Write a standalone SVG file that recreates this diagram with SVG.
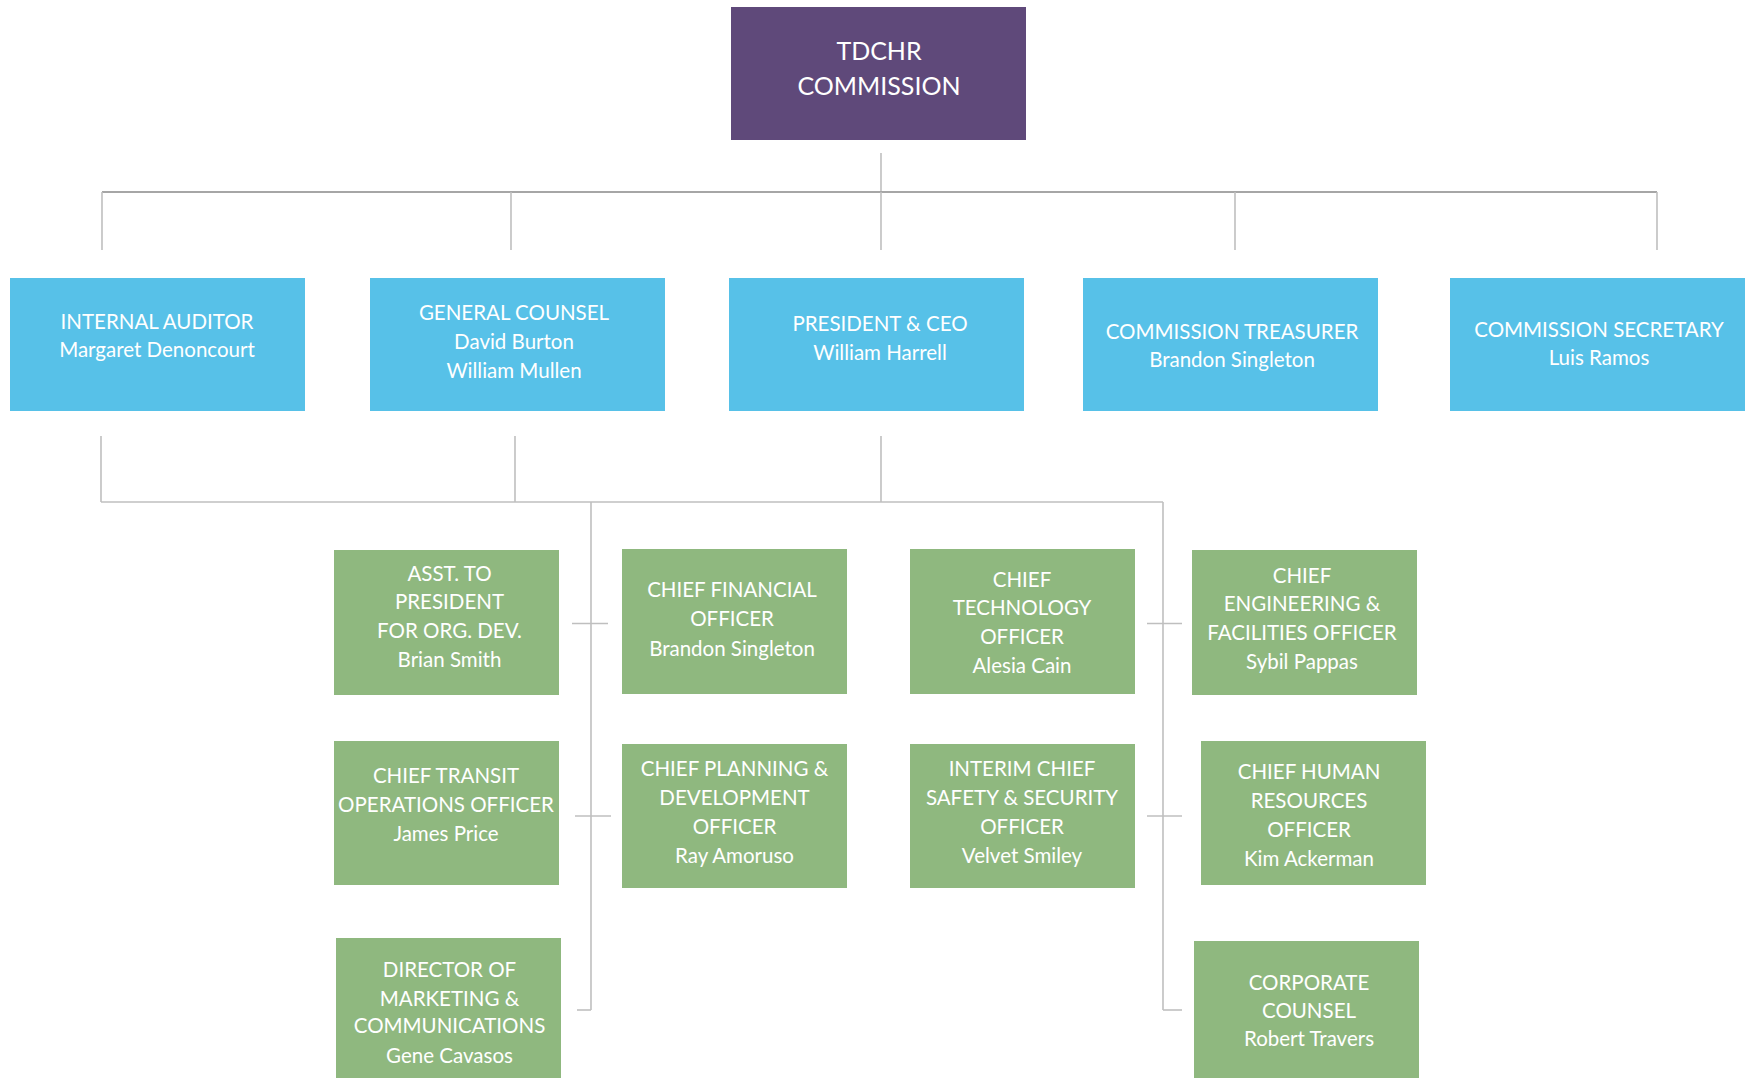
<svg xmlns="http://www.w3.org/2000/svg" width="1745" height="1078" viewBox="0 0 1745 1078">
<style>
.purple{fill:#5F497A}
.blue{fill:#57C1E8}
.green{fill:#8FB87F}
text{font-family:Lato,"Open Sans","Liberation Sans",sans-serif;fill:#FFFFFF;font-size:20.5px;text-anchor:middle}
.big{font-size:25px}
.ln{stroke:#BFBFBF;stroke-width:1.6;fill:none}
.ln2{stroke:#A6A6A6;stroke-width:2;fill:none}
</style>
<rect width="1745" height="1078" fill="#FFFFFF"/>
<g id="connectors">
<line class="ln" x1="881" y1="153" x2="881" y2="192"/>
<line class="ln2" x1="102" y1="192" x2="1657" y2="192"/>
<line class="ln" x1="102" y1="192" x2="102" y2="250"/>
<line class="ln" x1="511" y1="192" x2="511" y2="250"/>
<line class="ln" x1="881" y1="192" x2="881" y2="250"/>
<line class="ln" x1="1235" y1="192" x2="1235" y2="250"/>
<line class="ln" x1="1657" y1="192" x2="1657" y2="250"/>
<line class="ln" x1="101" y1="436" x2="101" y2="502"/>
<line class="ln" x1="515" y1="436" x2="515" y2="502"/>
<line class="ln" x1="881" y1="436" x2="881" y2="502"/>
<line class="ln" x1="101" y1="502" x2="1163" y2="502"/>
<line class="ln" x1="591" y1="502" x2="591" y2="1010"/>
<line class="ln" x1="1163" y1="502" x2="1163" y2="1010"/>
<line class="ln" x1="572" y1="623.5" x2="608" y2="623.5"/>
<line class="ln" x1="575" y1="816" x2="611" y2="816"/>
<line class="ln" x1="577" y1="1010" x2="591" y2="1010"/>
<line class="ln" x1="1147" y1="623.5" x2="1182" y2="623.5"/>
<line class="ln" x1="1147" y1="816" x2="1182" y2="816"/>
<line class="ln" x1="1163" y1="1010" x2="1182" y2="1010"/>
</g>
<g id="tdchr">
<rect class="purple" x="731" y="7" width="295" height="133"/>
<text class="big" x="879" y="60">TDCHR</text>
<text class="big" x="879" y="95">COMMISSION</text>
</g>
<g id="internal-auditor">
<rect class="blue" x="10" y="278" width="295" height="133"/>
<text x="157" y="329">INTERNAL AUDITOR</text>
<text x="157" y="357">Margaret Denoncourt</text>
</g>
<g id="general-counsel">
<rect class="blue" x="370" y="278" width="295" height="133"/>
<text x="514" y="320">GENERAL COUNSEL</text>
<text x="514" y="349">David Burton</text>
<text x="514" y="378">William Mullen</text>
</g>
<g id="president">
<rect class="blue" x="729" y="278" width="295" height="133"/>
<text x="880" y="331">PRESIDENT &amp; CEO</text>
<text x="880" y="360">William Harrell</text>
</g>
<g id="treasurer">
<rect class="blue" x="1083" y="278" width="295" height="133"/>
<text x="1232" y="339">COMMISSION TREASURER</text>
<text x="1232" y="367">Brandon Singleton</text>
</g>
<g id="secretary">
<rect class="blue" x="1450" y="278" width="295" height="133"/>
<text x="1599" y="337">COMMISSION SECRETARY</text>
<text x="1599" y="365">Luis Ramos</text>
</g>
<g id="asst-president">
<rect class="green" x="334" y="550" width="225" height="145"/>
<text x="449.5" y="581">ASST. TO</text>
<text x="449.5" y="609">PRESIDENT</text>
<text x="449.5" y="638">FOR ORG. DEV.</text>
<text x="449.5" y="667">Brian Smith</text>
</g>
<g id="cfo">
<rect class="green" x="622" y="549" width="225" height="145"/>
<text x="732" y="597">CHIEF FINANCIAL</text>
<text x="732" y="626">OFFICER</text>
<text x="732" y="656">Brandon Singleton</text>
</g>
<g id="cto">
<rect class="green" x="910" y="549" width="225" height="145"/>
<text x="1022" y="587">CHIEF</text>
<text x="1022" y="615">TECHNOLOGY</text>
<text x="1022" y="644">OFFICER</text>
<text x="1022" y="673">Alesia Cain</text>
</g>
<g id="chief-engineering">
<rect class="green" x="1192" y="550" width="225" height="145"/>
<text x="1302" y="583">CHIEF</text>
<text x="1302" y="611">ENGINEERING &amp;</text>
<text x="1302" y="640">FACILITIES OFFICER</text>
<text x="1302" y="669">Sybil Pappas</text>
</g>
<g id="chief-transit">
<rect class="green" x="334" y="741" width="225" height="144"/>
<text x="446" y="783">CHIEF TRANSIT</text>
<text x="446" y="812">OPERATIONS OFFICER</text>
<text x="446" y="841">James Price</text>
</g>
<g id="chief-planning">
<rect class="green" x="622" y="744" width="225" height="144"/>
<text x="734.5" y="776">CHIEF PLANNING &amp;</text>
<text x="734.5" y="805">DEVELOPMENT</text>
<text x="734.5" y="834">OFFICER</text>
<text x="734.5" y="863">Ray Amoruso</text>
</g>
<g id="interim-safety">
<rect class="green" x="910" y="744" width="225" height="144"/>
<text x="1022" y="776">INTERIM CHIEF</text>
<text x="1022" y="805">SAFETY &amp; SECURITY</text>
<text x="1022" y="834">OFFICER</text>
<text x="1022" y="863">Velvet Smiley</text>
</g>
<g id="chief-hr">
<rect class="green" x="1201" y="741" width="225" height="144"/>
<text x="1309" y="779">CHIEF HUMAN</text>
<text x="1309" y="808">RESOURCES</text>
<text x="1309" y="837">OFFICER</text>
<text x="1309" y="866">Kim Ackerman</text>
</g>
<g id="director-marketing">
<rect class="green" x="336" y="938" width="225" height="140"/>
<text x="449.5" y="977">DIRECTOR OF</text>
<text x="449.5" y="1006">MARKETING &amp;</text>
<text x="449.5" y="1033">COMMUNICATIONS</text>
<text x="449.5" y="1063">Gene Cavasos</text>
</g>
<g id="corporate-counsel">
<rect class="green" x="1194" y="941" width="225" height="137"/>
<text x="1309" y="990">CORPORATE</text>
<text x="1309" y="1018">COUNSEL</text>
<text x="1309" y="1046">Robert Travers</text>
</g>
</svg>
